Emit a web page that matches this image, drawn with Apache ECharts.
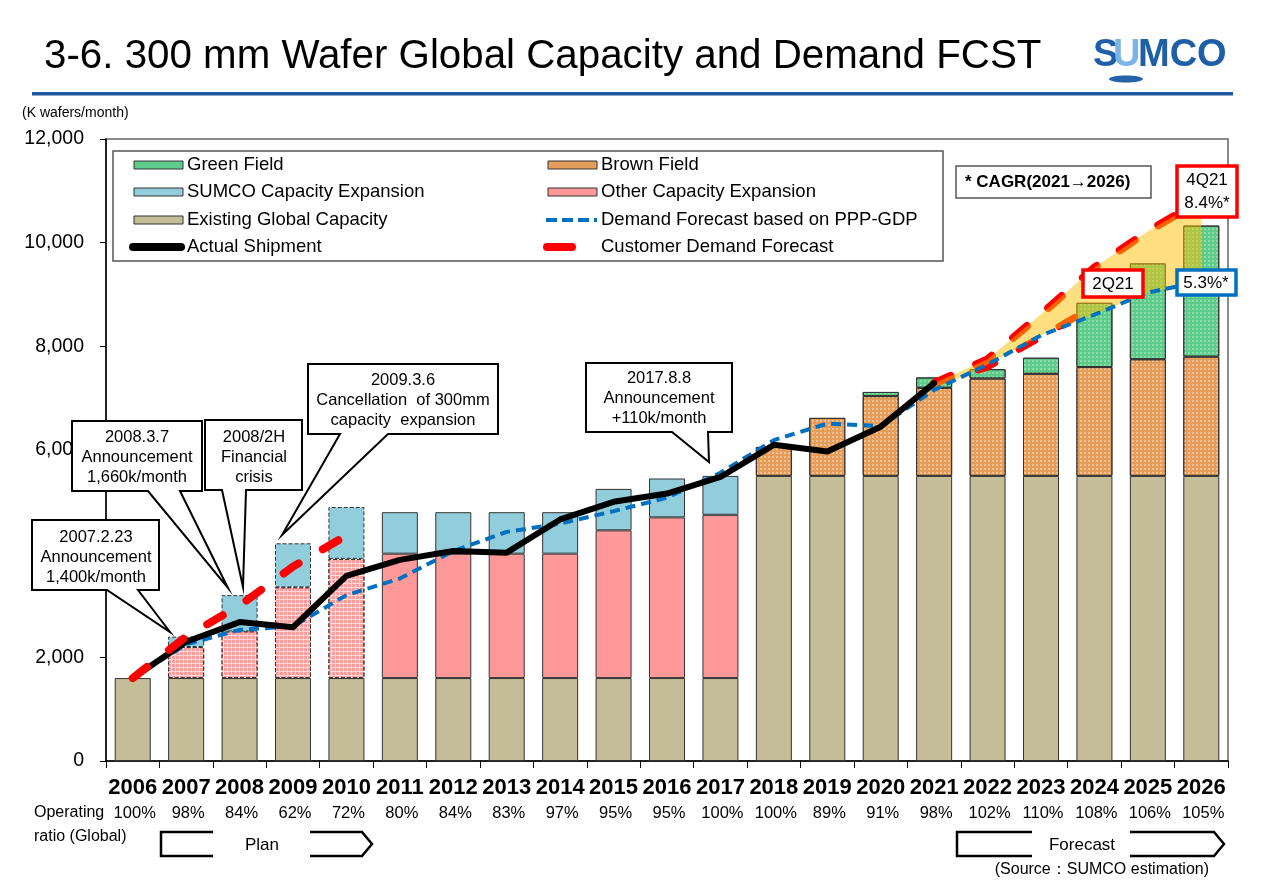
<!DOCTYPE html>
<html>
<head>
<meta charset="utf-8">
<script src="https://cdn.jsdelivr.net/npm/echarts@6/dist/echarts.min.js"></script>
<style>
  html, body { margin: 0; padding: 0; background: #fff; }
  #chart { width: 1261px; height: 887px; }
</style>
</head>
<body>
<div id="chart"></div>
<script>
// ---------------- DATA ----------------
const years = ['2006','2007','2008','2009','2010','2011','2012','2013','2014','2015','2016','2017','2018','2019','2020','2021','2022','2023','2024','2025','2026'];
const opRatio = ['100%','98%','84%','62%','72%','80%','84%','83%','97%','95%','95%','100%','100%','89%','91%','98%','102%','110%','108%','106%','105%'];
const planYears = ['2007','2008','2009','2010'];
const existingCapacity = [1600,1600,1600,1600,1600,1600,1600,1600,1600,1600,1600,1600,5500,5500,5500,5500,5500,5500,5500,5500,5500];
const otherExpansion   = [0,600,900,1750,2300,2400,2400,2400,2400,2850,3100,3150,0,0,0,0,0,0,0,0,0];
const sumcoExpansion   = [0,200,700,850,1000,800,800,800,800,800,750,750,0,0,0,0,0,0,0,0,0];
const brownField       = [0,0,0,0,0,0,0,0,0,0,0,0,560,1120,1540,1700,1880,1970,2100,2250,2300];
const greenField       = [0,0,0,0,0,0,0,0,0,0,0,0,0,0,80,200,180,310,1240,1850,2530];
const actualShipment   = [1600,2300,2680,2580,3570,3880,4050,4020,4660,5000,5160,5480,6100,5970,6450,7290,null,null,null,null,null];
const pppGdpForecast   = [1600,2250,2530,2600,3200,3520,4050,4420,4580,4820,5080,5560,6190,6510,6460,7160,7650,8210,8610,9040,9250];
const customerEarly    = [1600,2400,3000,3750,4350,null,null,null,null,null,null,null,null,null,null,null,null,null,null,null,null];
const customer2Q21     = [null,null,null,null,null,null,null,null,null,null,null,null,null,null,null,7290,7600,8180,8780,null,null];
const customer4Q21     = [null,null,null,null,null,null,null,null,null,null,null,null,null,null,null,7290,7750,8620,9520,10220,10820];

// ---------------- STYLE ----------------
const FONT = "'Liberation Sans', Arial, Helvetica, sans-serif";
const C_EXIST = '#C4BD97', C_OTHER = '#FF9999', C_SUMCO = '#92CDDC', C_BROWN = '#E59D5C', C_GREEN = '#5FCB8A';
const C_BLUE = '#0070C0', C_RED = '#FF0000';

const isPlan = years.map(y => planYears.indexOf(y) >= 0);
const nz = v => (v ? v : '-');

const otherData = otherExpansion.map((v, i) => {
  if (!v) return '-';
  if (isPlan[i]) return { value: v, itemStyle: { color: '#FFD9D9', borderType: 'dashed',
    decal: { symbol: 'rect', symbolSize: 1, color: '#FF9C9C', dashArrayX: [3, 1], dashArrayY: [3, 1] } } };
  return v;
});
const sumcoData = sumcoExpansion.map((v, i) => {
  if (!v) return '-';
  if (isPlan[i]) return { value: v, itemStyle: { borderType: 'dashed' } };
  return v;
});
const fanBase = customer4Q21.map((v, i) => (v == null ? '-' : pppGdpForecast[i]));
const fanSpan = customer4Q21.map((v, i) => (v == null ? '-' : v - pppGdpForecast[i]));

const barBorder = { borderColor: '#333', borderWidth: 1 };

// ---------------- GRAPHIC HELPERS ----------------
function txt(x, y, text, size, opts) {
  opts = opts || {};
  return { type: 'text', z: 102, silent: true, style: {
    x: x, y: y, text: text, fill: opts.fill || '#000',
    font: (opts.weight || 'normal') + ' ' + size + 'px ' + FONT,
    textAlign: opts.align || 'left', textVerticalAlign: 'middle' } };
}
function poly(points, stroke, lw, fill) {
  return { type: 'polygon', z: 100, silent: true, shape: { points: points },
    style: { fill: fill || '#fff', stroke: stroke || '#000', lineWidth: lw || 2 } };
}
function pline(points, stroke, lw) {
  return { type: 'polyline', z: 100, silent: true, shape: { points: points },
    style: { stroke: stroke || '#000', lineWidth: lw || 2, fill: null } };
}
function rect(x, y, w, h, fill, stroke, lw) {
  return { type: 'rect', z: 101, silent: true, shape: { x: x, y: y, width: w, height: h },
    style: { fill: fill, stroke: stroke || null, lineWidth: lw || 0 } };
}
function seg(x1, y1, x2, y2, stroke, lw, dash, cap) {
  return { type: 'line', z: 101, silent: true, shape: { x1: x1, y1: y1, x2: x2, y2: y2 },
    style: { stroke: stroke, lineWidth: lw, lineDash: dash || null, lineCap: cap || 'butt' } };
}

const graphics = [];
// title
graphics.push(txt(44, 57, '3-6. 300 mm Wafer Global Capacity and Demand FCST', 40.3));
graphics.push(rect(32, 92, 1201, 3.5, '#1F56A0'));
// logo
graphics.push(txt(1093, 56, 'S', 38, { weight: 'bold', fill: '#1F5FA8' }));
graphics.push(txt(1113, 56, 'U', 38, { weight: 'bold', fill: '#7DB4E4' }));
graphics.push(txt(1138, 56, 'MCO', 38, { weight: 'bold', fill: '#1F5FA8' }));
graphics.push({ type: 'ellipse', z: 101, silent: true, shape: { cx: 1126, cy: 79, rx: 17, ry: 3.5 }, style: { fill: '#2563A8' } });
// unit
graphics.push(txt(22, 113, '(K wafers/month)', 14));

// legend
graphics.push(rect(113, 151, 830, 110, '#fff', '#555', 1.5));
const lgRows = [165, 192, 220, 247];
graphics.push(rect(134, lgRows[0] - 4, 49, 8, C_GREEN, '#333', 1));
graphics.push(txt(187, lgRows[0], 'Green Field', 18.5));
graphics.push(rect(548, lgRows[0] - 4, 49, 8, C_BROWN, '#333', 1));
graphics.push(txt(601, lgRows[0], 'Brown Field', 18.5));
graphics.push(rect(134, lgRows[1] - 4, 49, 8, C_SUMCO, '#333', 1));
graphics.push(txt(187, lgRows[1], 'SUMCO Capacity Expansion', 18.5));
graphics.push(rect(548, lgRows[1] - 4, 49, 8, C_OTHER, '#333', 1));
graphics.push(txt(601, lgRows[1], 'Other Capacity Expansion', 18.5));
graphics.push(rect(134, lgRows[2] - 4, 49, 8, C_EXIST, '#333', 1));
graphics.push(txt(187, lgRows[2], 'Existing Global Capacity', 18.5));
graphics.push(seg(546, lgRows[2], 597, lgRows[2], C_BLUE, 4, [11, 5]));
graphics.push(txt(601, lgRows[2], 'Demand Forecast based on PPP-GDP', 18.5));
graphics.push(seg(133, lgRows[3], 181, lgRows[3], '#000', 8, null, 'round'));
graphics.push(txt(187, lgRows[3], 'Actual Shipment', 18.5));
graphics.push(seg(547, lgRows[3], 572, lgRows[3], C_RED, 8, null, 'round'));
graphics.push(txt(601, lgRows[3], 'Customer Demand Forecast', 18.5));

// CAGR box and labels
graphics.push(rect(956, 166, 195, 32, '#fff', '#555', 1.5));
graphics.push(txt(965, 182, '* CAGR(2021\u21922026)', 17, { weight: 'bold' }));
graphics.push(rect(1177, 166, 60, 51, '#fff', C_RED, 3.5));
graphics.push(txt(1207, 180, '4Q21', 17, { align: 'center' }));
graphics.push(txt(1207, 203, '8.4%*', 17, { align: 'center' }));
graphics.push(rect(1083, 270, 60, 27, '#fff', C_RED, 3.5));
graphics.push(txt(1113, 284, '2Q21', 17, { align: 'center' }));
graphics.push(rect(1177, 270, 59, 25, '#fff', C_BLUE, 3.5));
graphics.push(txt(1206, 283, '5.3%*', 17, { align: 'center' }));

// callouts
graphics.push(poly([[32,520],[159,520],[159,590],[138,590],[170,632],[107,590],[32,590]]));
graphics.push(txt(96, 537, '2007.2.23', 16.5, { align: 'center' }));
graphics.push(txt(96, 557, 'Announcement', 16.5, { align: 'center' }));
graphics.push(txt(96, 577, '1,400k/month', 16.5, { align: 'center' }));

graphics.push(poly([[72,421],[202,421],[202,491],[180,491],[228,588],[148,491],[72,491]]));
graphics.push(txt(137, 437, '2008.3.7', 16.5, { align: 'center' }));
graphics.push(txt(137, 457, 'Announcement', 16.5, { align: 'center' }));
graphics.push(txt(137, 477, '1,660k/month', 16.5, { align: 'center' }));

graphics.push(poly([[205,420],[302,420],[302,490],[246,490],[243,587],[222,490],[205,490]]));
graphics.push(txt(254, 437, '2008/2H', 16.5, { align: 'center' }));
graphics.push(txt(254, 457, 'Financial', 16.5, { align: 'center' }));
graphics.push(txt(254, 477, 'crisis', 16.5, { align: 'center' }));

graphics.push(poly([[308,364],[498,364],[498,434],[388,434],[282,535],[340,434],[308,434]]));
graphics.push(txt(403, 380, '2009.3.6', 16.5, { align: 'center' }));
graphics.push(txt(403, 400, 'Cancellation  of 300mm', 16.5, { align: 'center' }));
graphics.push(txt(403, 420, 'capacity  expansion', 16.5, { align: 'center' }));

graphics.push(poly([[586,363],[732,363],[732,432],[708,432],[709,462],[672,432],[586,432]]));
graphics.push(txt(659, 378, '2017.8.8', 16.5, { align: 'center' }));
graphics.push(txt(659, 398, 'Announcement', 16.5, { align: 'center' }));
graphics.push(txt(659, 418, '+110k/month', 16.5, { align: 'center' }));

// bottom texts
graphics.push(txt(34, 813, 'Operating', 16));
graphics.push(txt(34, 837, 'ratio (Global)', 16));
graphics.push(pline([[213,832],[161,832],[161,856],[213,856]], '#000', 2.5));
graphics.push(pline([[310,832],[362,832],[372,844],[362,856],[310,856]], '#000', 2.5));
graphics.push(txt(262, 845, 'Plan', 17, { align: 'center' }));
graphics.push(pline([[1032,832],[957,832],[957,856],[1032,856]], '#000', 2.5));
graphics.push(pline([[1130,832],[1214,832],[1224,844],[1214,856],[1130,856]], '#000', 2.5));
graphics.push(txt(1082, 845, 'Forecast', 17, { align: 'center' }));
graphics.push(txt(1209, 870, '(Source\uFF1ASUMCO estimation)', 16, { align: 'right' }));

// ---------------- CHART ----------------
const chart = echarts.init(document.getElementById('chart'), null, { renderer: 'canvas' });
const option = {
  animation: false,
  backgroundColor: '#fff',
  textStyle: { fontFamily: FONT, color: '#000' },
  grid: { left: 106, right: 33, top: 139, bottom: 126, show: true, borderColor: '#666', borderWidth: 1.5 },
  xAxis: {
    type: 'category', data: years,
    axisLine: { lineStyle: { color: '#000', width: 1.5 } },
    axisTick: { show: true, length: 7, lineStyle: { color: '#000', width: 1 } },
    axisLabel: {
      interval: 0, margin: 14, color: '#000',
      formatter: (v, i) => '{y|' + v + '}\n{r|' + opRatio[i] + '}',
      rich: {
        y: { fontSize: 22, fontWeight: 'bold', lineHeight: 26, fontFamily: FONT, color: '#000' },
        r: { fontSize: 16.5, lineHeight: 24, fontFamily: FONT, color: '#000', padding: [0, 0, 0, 4] }
      }
    }
  },
  yAxis: {
    type: 'value', min: 0, max: 12000, interval: 2000,
    axisLine: { show: true, lineStyle: { color: '#000', width: 1.5 } },
    axisTick: { show: true, length: 6, lineStyle: { color: '#000' } },
    splitLine: { show: false },
    axisLabel: { fontSize: 19.5, color: '#000', margin: 22, fontFamily: FONT,
      formatter: v => v.toLocaleString('en-US') }
  },
  series: [
    { name: 'Existing Global Capacity', type: 'bar', stack: 'cap', barWidth: 36, z: 2,
      itemStyle: Object.assign({ color: C_EXIST }, barBorder), data: existingCapacity.map(nz) },
    { name: 'Other Capacity Expansion', type: 'bar', stack: 'cap', barWidth: 36, z: 2,
      itemStyle: Object.assign({ color: C_OTHER }, barBorder), data: otherData },
    { name: 'SUMCO Capacity Expansion', type: 'bar', stack: 'cap', barWidth: 36, z: 2,
      itemStyle: Object.assign({ color: C_SUMCO }, barBorder), data: sumcoData },
    { name: 'Brown Field', type: 'bar', stack: 'cap', barWidth: 36, z: 2,
      itemStyle: Object.assign({ color: C_BROWN,
        decal: { symbol: 'rect', symbolSize: 1, color: 'rgba(255,235,205,0.45)', dashArrayX: [2, 2], dashArrayY: [2, 2] } }, barBorder),
      data: brownField.map(nz) },
    { name: 'Green Field', type: 'bar', stack: 'cap', barWidth: 36, z: 2,
      itemStyle: Object.assign({ color: C_GREEN,
        decal: { symbol: 'rect', symbolSize: 1, color: 'rgba(215,255,225,0.35)', dashArrayX: [2, 2], dashArrayY: [2, 2] } }, barBorder),
      data: greenField.map(nz) },

    { name: 'Customer Demand Forecast 4Q21', type: 'line', z: 3, symbol: 'none', data: customer4Q21,
      lineStyle: { color: C_RED, width: 8, type: [18, 28], cap: 'round' } },
    { name: 'Customer Demand Forecast 2Q21', type: 'line', z: 3, symbol: 'none', data: customer2Q21,
      lineStyle: { color: C_RED, width: 7, type: [18, 28], cap: 'round' } },
    { name: 'fanBase', type: 'line', stack: 'fan', z: 4, symbol: 'none', silent: true, data: fanBase,
      lineStyle: { opacity: 0 } },
    { name: 'fanSpan', type: 'line', stack: 'fan', z: 4, symbol: 'none', silent: true, data: fanSpan,
      lineStyle: { opacity: 0 }, areaStyle: { color: 'rgba(255,192,0,0.5)', opacity: 1 } },
    { name: 'Demand Forecast based on PPP-GDP', type: 'line', z: 5, symbol: 'none', data: pppGdpForecast,
      lineStyle: { color: C_BLUE, width: 4, type: [10, 6] } },
    { name: 'Actual Shipment', type: 'line', z: 6, symbol: 'none', data: actualShipment,
      lineStyle: { color: '#000', width: 6, join: 'round', cap: 'round' } },
    { name: 'Customer Demand Forecast', type: 'line', z: 7, symbol: 'none', data: customerEarly,
      lineStyle: { color: C_RED, width: 8, type: [18, 28], cap: 'round' } }
  ],
  graphic: { elements: graphics }
};
chart.setOption(option);
</script>
</body>
</html>
